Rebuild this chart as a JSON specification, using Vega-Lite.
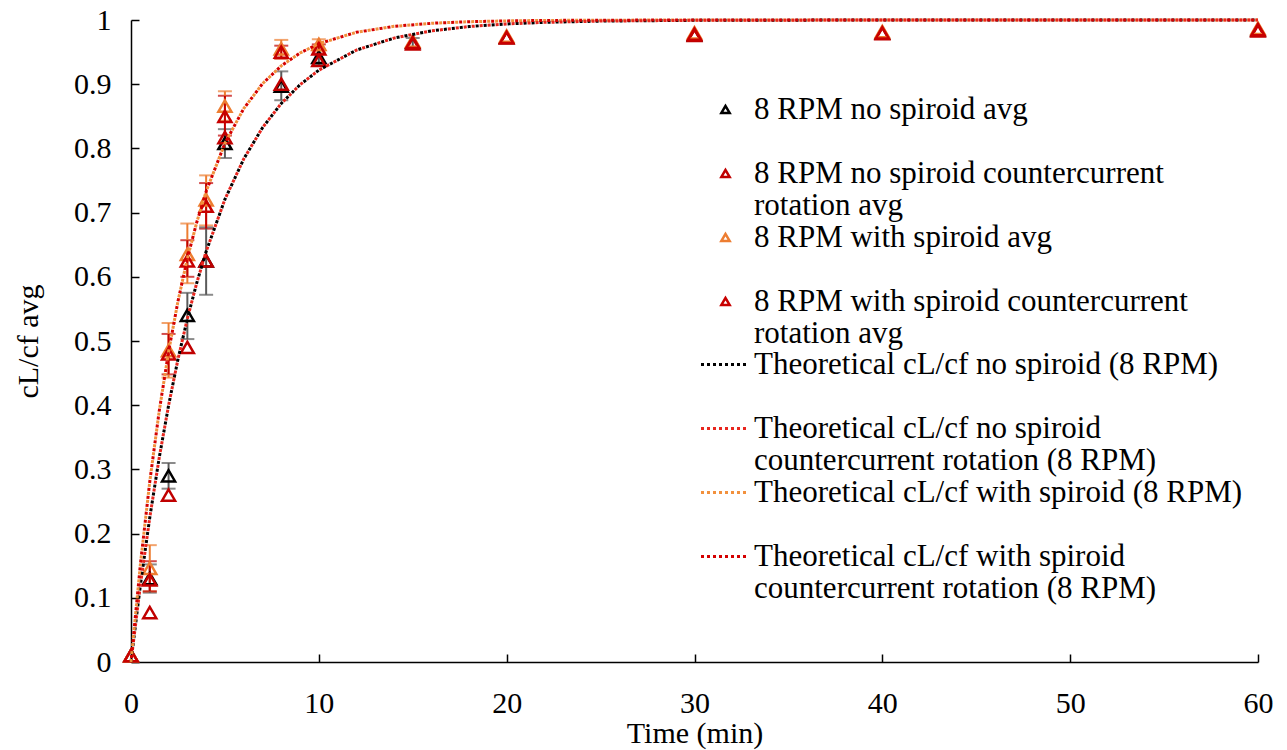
{
  "$schema": "https://vega.github.io/schema/vega-lite/v6.json",
  "width": 1127,
  "height": 642,
  "autosize": {"type": "none"},
  "padding": {"left": 131, "top": 20, "right": 29, "bottom": 88},
  "background": "white",
  "config": {
    "view": {"stroke": null},
    "font": "Liberation Serif",
    "style": {"guide-label": {"lineHeight": 32}},
    "axis": {
      "grid": false,
      "domainColor": "black",
      "domainWidth": 1.5,
      "tickColor": "black",
      "tickWidth": 1.5,
      "tickSize": -8,
      "labelFlush": false,
      "labelFont": "Liberation Serif",
      "labelFontSize": 30,
      "labelColor": "black",
      "titleFont": "Liberation Serif",
      "titleFontSize": 30,
      "titleFontWeight": "normal",
      "titleColor": "black"
    },
    "legend": {
      "labelFont": "Liberation Serif",
      "labelFontSize": 31,
      "labelColor": "black",
      "labelLimit": 800,
      "labelBaseline": "middle",
      "gridAlign": "all",
      "padding": 0
    }
  },
  "datasets": {
    "obs": [
      {"s": "S1", "t": 0, "v": 0.01},
      {"s": "S1", "t": 1, "v": 0.13, "lo": 0.108, "hi": 0.152},
      {"s": "S1", "t": 2, "v": 0.29, "lo": 0.27, "hi": 0.31},
      {"s": "S1", "t": 3, "v": 0.54, "lo": 0.503, "hi": 0.575},
      {"s": "S1", "t": 4, "v": 0.625, "lo": 0.572, "hi": 0.677},
      {"s": "S1", "t": 5, "v": 0.808, "lo": 0.785, "hi": 0.83},
      {"s": "S1", "t": 8, "v": 0.897, "lo": 0.875, "hi": 0.92},
      {"s": "S1", "t": 10, "v": 0.942, "lo": 0.93, "hi": 0.954},
      {"s": "S1", "t": 15, "v": 0.965, "lo": 0.958, "hi": 0.972},
      {"s": "S1", "t": 20, "v": 0.973},
      {"s": "S1", "t": 30, "v": 0.977},
      {"s": "S1", "t": 40, "v": 0.98},
      {"s": "S1", "t": 60, "v": 0.985},
      {"s": "S2", "t": 0, "v": 0.01},
      {"s": "S2", "t": 1, "v": 0.077},
      {"s": "S2", "t": 2, "v": 0.26},
      {"s": "S2", "t": 3, "v": 0.49},
      {"s": "S2", "t": 4, "v": 0.625},
      {"s": "S2", "t": 5, "v": 0.817},
      {"s": "S2", "t": 8, "v": 0.9},
      {"s": "S2", "t": 10, "v": 0.937},
      {"s": "S2", "t": 15, "v": 0.963},
      {"s": "S2", "t": 20, "v": 0.972},
      {"s": "S2", "t": 30, "v": 0.976},
      {"s": "S2", "t": 40, "v": 0.979},
      {"s": "S2", "t": 60, "v": 0.983},
      {"s": "S3", "t": 0, "v": 0.01},
      {"s": "S3", "t": 1, "v": 0.146, "lo": 0.11, "hi": 0.182},
      {"s": "S3", "t": 2, "v": 0.485, "lo": 0.443, "hi": 0.528},
      {"s": "S3", "t": 3, "v": 0.635, "lo": 0.59, "hi": 0.683},
      {"s": "S3", "t": 4, "v": 0.72, "lo": 0.68, "hi": 0.758},
      {"s": "S3", "t": 5, "v": 0.866, "lo": 0.843, "hi": 0.889},
      {"s": "S3", "t": 8, "v": 0.955, "lo": 0.94, "hi": 0.969},
      {"s": "S3", "t": 10, "v": 0.962, "lo": 0.952, "hi": 0.97},
      {"s": "S3", "t": 15, "v": 0.967},
      {"s": "S3", "t": 20, "v": 0.975},
      {"s": "S3", "t": 30, "v": 0.98},
      {"s": "S3", "t": 40, "v": 0.982},
      {"s": "S3", "t": 60, "v": 0.987},
      {"s": "S4", "t": 0, "v": 0.01},
      {"s": "S4", "t": 1, "v": 0.128, "lo": 0.11, "hi": 0.157},
      {"s": "S4", "t": 2, "v": 0.48, "lo": 0.448, "hi": 0.511},
      {"s": "S4", "t": 3, "v": 0.625, "lo": 0.6, "hi": 0.657},
      {"s": "S4", "t": 4, "v": 0.71, "lo": 0.675, "hi": 0.746},
      {"s": "S4", "t": 5, "v": 0.85, "lo": 0.82, "hi": 0.882},
      {"s": "S4", "t": 8, "v": 0.95, "lo": 0.94, "hi": 0.96},
      {"s": "S4", "t": 10, "v": 0.955, "lo": 0.948, "hi": 0.962},
      {"s": "S4", "t": 15, "v": 0.965},
      {"s": "S4", "t": 20, "v": 0.973},
      {"s": "S4", "t": 30, "v": 0.978},
      {"s": "S4", "t": 40, "v": 0.98},
      {"s": "S4", "t": 60, "v": 0.985}
    ],
    "theory": [
      {"c": "T1", "t": 0, "v": 0}, {"c": "T1", "t": 0.5, "v": 0.1197}, {"c": "T1", "t": 1, "v": 0.2251}, {"c": "T1", "t": 1.5, "v": 0.3179}, {"c": "T1", "t": 2, "v": 0.3995}, {"c": "T1", "t": 2.5, "v": 0.4714}, {"c": "T1", "t": 3, "v": 0.5347}, {"c": "T1", "t": 3.5, "v": 0.5904}, {"c": "T1", "t": 4, "v": 0.6394}, {"c": "T1", "t": 5, "v": 0.7206}, {"c": "T1", "t": 6, "v": 0.7835}, {"c": "T1", "t": 7, "v": 0.8322}, {"c": "T1", "t": 8, "v": 0.87}, {"c": "T1", "t": 9, "v": 0.8992}, {"c": "T1", "t": 10, "v": 0.9219}, {"c": "T1", "t": 12, "v": 0.9531}, {"c": "T1", "t": 14, "v": 0.9718}, {"c": "T1", "t": 16, "v": 0.9831}, {"c": "T1", "t": 18, "v": 0.9898}, {"c": "T1", "t": 20, "v": 0.9939}, {"c": "T1", "t": 22, "v": 0.9963}, {"c": "T1", "t": 25, "v": 0.9983}, {"c": "T1", "t": 30, "v": 0.9995}, {"c": "T1", "t": 40, "v": 1}, {"c": "T1", "t": 50, "v": 1}, {"c": "T1", "t": 60, "v": 1},
      {"c": "T2", "t": 0, "v": 0}, {"c": "T2", "t": 0.5, "v": 0.1197}, {"c": "T2", "t": 1, "v": 0.2251}, {"c": "T2", "t": 1.5, "v": 0.3179}, {"c": "T2", "t": 2, "v": 0.3995}, {"c": "T2", "t": 2.5, "v": 0.4714}, {"c": "T2", "t": 3, "v": 0.5347}, {"c": "T2", "t": 3.5, "v": 0.5904}, {"c": "T2", "t": 4, "v": 0.6394}, {"c": "T2", "t": 5, "v": 0.7206}, {"c": "T2", "t": 6, "v": 0.7835}, {"c": "T2", "t": 7, "v": 0.8322}, {"c": "T2", "t": 8, "v": 0.87}, {"c": "T2", "t": 9, "v": 0.8992}, {"c": "T2", "t": 10, "v": 0.9219}, {"c": "T2", "t": 12, "v": 0.9531}, {"c": "T2", "t": 14, "v": 0.9718}, {"c": "T2", "t": 16, "v": 0.9831}, {"c": "T2", "t": 18, "v": 0.9898}, {"c": "T2", "t": 20, "v": 0.9939}, {"c": "T2", "t": 22, "v": 0.9963}, {"c": "T2", "t": 25, "v": 0.9983}, {"c": "T2", "t": 30, "v": 0.9995}, {"c": "T2", "t": 40, "v": 1}, {"c": "T2", "t": 50, "v": 1}, {"c": "T2", "t": 60, "v": 1},
      {"c": "T3", "t": 0, "v": 0}, {"c": "T3", "t": 0.5, "v": 0.1521}, {"c": "T3", "t": 1, "v": 0.2811}, {"c": "T3", "t": 1.5, "v": 0.3904}, {"c": "T3", "t": 2, "v": 0.4831}, {"c": "T3", "t": 2.5, "v": 0.5618}, {"c": "T3", "t": 3, "v": 0.6284}, {"c": "T3", "t": 3.5, "v": 0.6849}, {"c": "T3", "t": 4, "v": 0.7329}, {"c": "T3", "t": 5, "v": 0.808}, {"c": "T3", "t": 6, "v": 0.8619}, {"c": "T3", "t": 7, "v": 0.9007}, {"c": "T3", "t": 8, "v": 0.9286}, {"c": "T3", "t": 9, "v": 0.9487}, {"c": "T3", "t": 10, "v": 0.9631}, {"c": "T3", "t": 12, "v": 0.9809}, {"c": "T3", "t": 14, "v": 0.9901}, {"c": "T3", "t": 16, "v": 0.9949}, {"c": "T3", "t": 18, "v": 0.9974}, {"c": "T3", "t": 20, "v": 0.9986}, {"c": "T3", "t": 22, "v": 0.9993}, {"c": "T3", "t": 25, "v": 0.9997}, {"c": "T3", "t": 30, "v": 1}, {"c": "T3", "t": 40, "v": 1}, {"c": "T3", "t": 50, "v": 1}, {"c": "T3", "t": 60, "v": 1},
      {"c": "T4", "t": 0, "v": 0}, {"c": "T4", "t": 0.5, "v": 0.1521}, {"c": "T4", "t": 1, "v": 0.2811}, {"c": "T4", "t": 1.5, "v": 0.3904}, {"c": "T4", "t": 2, "v": 0.4831}, {"c": "T4", "t": 2.5, "v": 0.5618}, {"c": "T4", "t": 3, "v": 0.6284}, {"c": "T4", "t": 3.5, "v": 0.6849}, {"c": "T4", "t": 4, "v": 0.7329}, {"c": "T4", "t": 5, "v": 0.808}, {"c": "T4", "t": 6, "v": 0.8619}, {"c": "T4", "t": 7, "v": 0.9007}, {"c": "T4", "t": 8, "v": 0.9286}, {"c": "T4", "t": 9, "v": 0.9487}, {"c": "T4", "t": 10, "v": 0.9631}, {"c": "T4", "t": 12, "v": 0.9809}, {"c": "T4", "t": 14, "v": 0.9901}, {"c": "T4", "t": 16, "v": 0.9949}, {"c": "T4", "t": 18, "v": 0.9974}, {"c": "T4", "t": 20, "v": 0.9986}, {"c": "T4", "t": 22, "v": 0.9993}, {"c": "T4", "t": 25, "v": 0.9997}, {"c": "T4", "t": 30, "v": 1}, {"c": "T4", "t": 40, "v": 1}, {"c": "T4", "t": 50, "v": 1}, {"c": "T4", "t": 60, "v": 1}
    ]
  },
  "encoding": {
    "x": {
      "field": "t", "type": "quantitative",
      "scale": {"domain": [0, 60], "nice": false},
      "axis": {"values": [0, 10, 20, 30, 40, 50, 60], "labelPadding": 34, "titlePadding": 0, "title": "Time (min)"}
    },
    "y": {
      "field": "v", "type": "quantitative",
      "scale": {"domain": [0, 1], "nice": false},
      "axis": {"values": [0, 0.1, 0.2, 0.3, 0.4, 0.5, 0.6, 0.7, 0.8, 0.9, 1], "format": "~g", "labelPadding": 28, "titlePadding": 30, "title": "cL/cf avg"}
    }
  },
  "layer": [
    {
      "data": {"name": "obs"},
      "transform": [{"filter": {"field": "lo", "valid": true}}],
      "mark": {"type": "errorbar", "ticks": {"size": 14, "thickness": 2}, "thickness": 2},
      "encoding": {
        "x": {"field": "t", "type": "quantitative"},
        "y": {"field": "lo", "type": "quantitative"},
        "y2": {"field": "hi"},
        "color": {
          "condition": [
            {"test": "datum.s == 'S1'", "value": "#5a5a5a"},
            {"test": "datum.s == 'S3'", "value": "#ED7D31"}
          ],
          "value": "#C00000"
        }
      }
    },
    {
      "data": {"name": "obs"},
      "mark": {"type": "point", "shape": "triangle-up", "filled": false, "strokeWidth": 2.5, "size": 170, "opacity": 1},
      "encoding": {
        "color": {
          "field": "s", "type": "nominal",
          "scale": {"domain": ["S1", "S2", "S3", "S4"], "range": ["#000000", "#C00000", "#ED7D31", "#C80000"]},
          "legend": {
            "title": null,
            "orient": "none",
            "legendX": 579,
            "legendY": 74,
            "symbolType": "triangle-up",
            "symbolSize": 70,
            "symbolStrokeWidth": 2.5,
            "symbolFillColor": "transparent",
            "labelOffset": 13,
            "rowPadding": 0,
            "labelExpr": "datum.label == 'S1' ? '8 RPM no spiroid avg' : datum.label == 'S2' ? ['8 RPM no spiroid countercurrent', 'rotation avg'] : datum.label == 'S3' ? '8 RPM with spiroid avg' : ['8 RPM with spiroid countercurrent', 'rotation avg']"
          }
        }
      }
    },
    {
      "data": {"name": "theory"},
      "transform": [{"filter": {"field": "c", "oneOf": ["T1", "T3"]}}],
      "mark": {"type": "line", "strokeWidth": 3, "strokeDash": [3, 5], "strokeCap": "butt"},
      "encoding": {
        "stroke": {
          "field": "c", "type": "nominal",
          "scale": {"domain": ["T1", "T2", "T3", "T4"], "range": ["#000000", "#E8261E", "#F2913D", "#D40000"]},
          "legend": {
            "title": null,
            "orient": "none",
            "legendX": 577,
            "legendY": 329,
            "symbolType": "M-5,0H5",
            "symbolSize": 81,
            "symbolStrokeWidth": 3,
            "symbolDash": [3, 3],
            "symbolFillColor": "transparent",
            "labelOffset": 15,
            "rowPadding": 0,
            "labelExpr": "datum.label == 'T1' ? 'Theoretical cL/cf no spiroid (8 RPM)' : datum.label == 'T2' ? ['Theoretical cL/cf no spiroid', 'countercurrent rotation (8 RPM)'] : datum.label == 'T3' ? 'Theoretical cL/cf with spiroid (8 RPM)' : ['Theoretical cL/cf with spiroid', 'countercurrent rotation (8 RPM)']"
          }
        }
      }
    },
    {
      "data": {"name": "theory"},
      "transform": [{"filter": {"field": "c", "oneOf": ["T2", "T4"]}}],
      "mark": {"type": "line", "strokeWidth": 3, "strokeDash": [3, 5], "strokeDashOffset": 4, "strokeCap": "butt"},
      "encoding": {
        "stroke": {"field": "c", "type": "nominal"}
      }
    }
  ]
}
